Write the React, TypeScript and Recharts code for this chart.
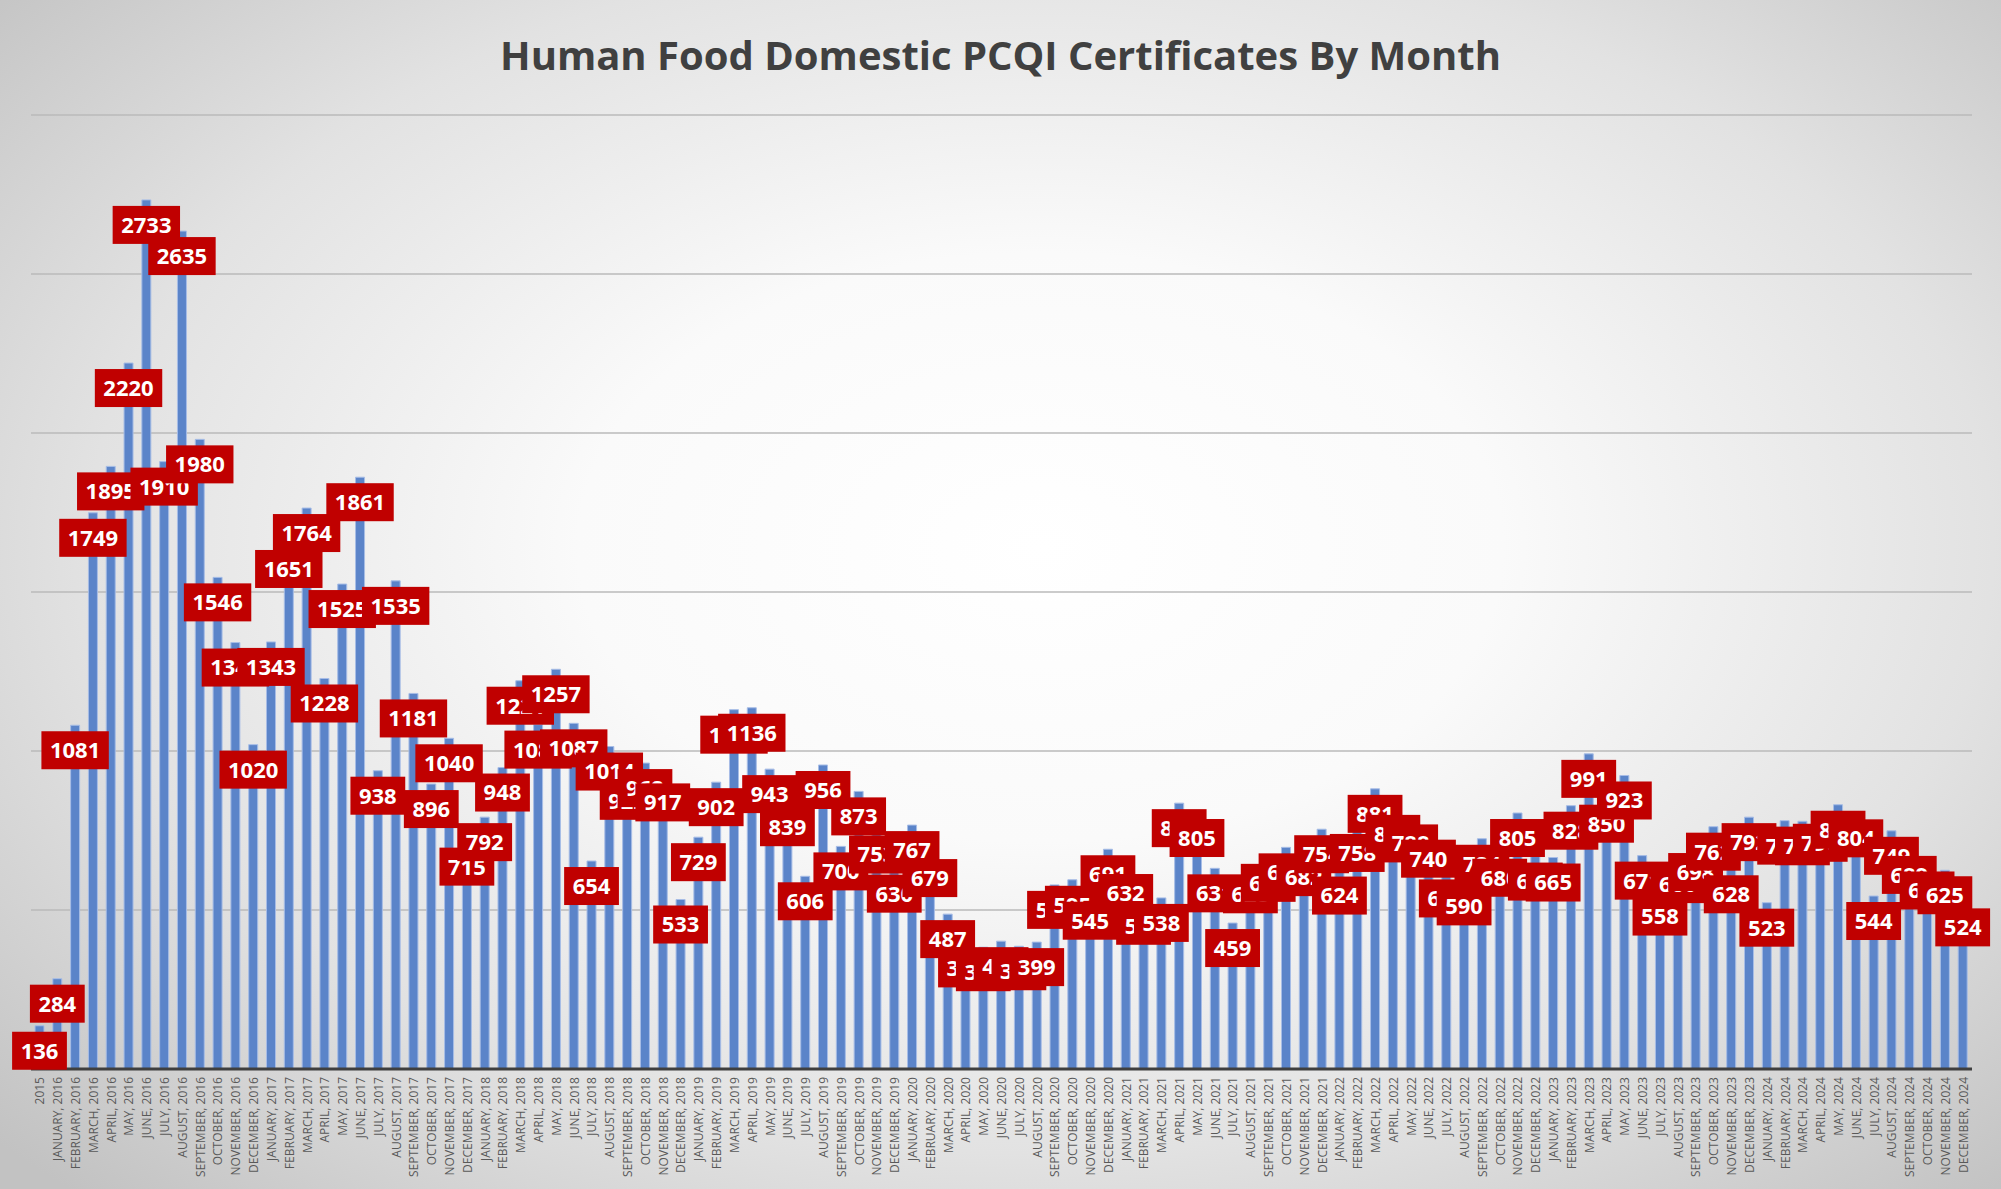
import { BarChart, Bar, XAxis, YAxis, CartesianGrid, LabelList } from 'recharts'

// certificates issued per month; first bar is the 2015 total
const MONTH_NAMES = [
  'JANUARY', 'FEBRUARY', 'MARCH', 'APRIL', 'MAY', 'JUNE',
  'JULY', 'AUGUST', 'SEPTEMBER', 'OCTOBER', 'NOVEMBER', 'DECEMBER',
]
const YEARS = [2016, 2017, 2018, 2019, 2020, 2021, 2022, 2023, 2024]

const CATEGORIES = ['2015', ...YEARS.flatMap(y => MONTH_NAMES.map(m => `${m}, ${y}`))]

const CERTIFICATES = [
  136,
  284, 1081, 1749, 1895, 2220, 2733, 1910, 2635, 1980, 1546, 1341, 1020, // 2016
  1343, 1651, 1764, 1228, 1525, 1861, 938, 1535, 1181, 896, 1040, 715,    // 2017
  792, 948, 1221, 1083, 1257, 1087, 654, 1014, 922, 962, 917, 533,         // 2018
  729, 902, 1130, 1136, 943, 839, 606, 956, 700, 873, 753, 630,            // 2019
  767, 679, 487, 395, 383, 402, 386, 399, 579, 595, 545, 691,              // 2020
  632, 529, 538, 836, 805, 631, 459, 628, 664, 697, 682, 754,              // 2021
  624, 758, 881, 818, 788, 740, 615, 590, 724, 680, 805, 668,              // 2022
  665, 828, 991, 850, 923, 671, 558, 660, 698, 762, 628, 792,              // 2023
  523, 781, 779, 790, 831, 804, 544, 749, 689, 640, 625, 524,              // 2024
]

const Y_TICKS = [0, 500, 1000, 1500, 2000, 2500, 3000]

const data = CATEGORIES.map((month, i) => ({ month, certificates: CERTIFICATES[i] }))

const FONT = '"Open Sans", "Liberation Sans", sans-serif'

// red callout sitting just inside the top of each bar
function ValueTag(props: any) {
  const { x, y, width, value } = props
  const text = String(value)
  const w = text.length * 12.6 + 17
  const h = 38
  const cx = x + width / 2
  const cy = y + 25
  return (
    <g>
      <rect x={cx - w / 2} y={cy - h / 2} width={w} height={h} fill="#c00000" />
      <text
        x={cx}
        y={cy}
        dy="0.36em"
        textAnchor="middle"
        fill="#ffffff"
        fontSize={22}
        fontWeight={700}
        fontFamily={FONT}
      >
        {text}
      </text>
    </g>
  )
}

function MonthTick({ x, y, payload }: any) {
  return (
    <text
      x={x}
      y={y}
      transform={`rotate(-90 ${x} ${y})`}
      textAnchor="end"
      dominantBaseline="central"
      fill="#595959"
      fontSize={12}
      fontFamily={FONT}
    >
      {payload.value}
    </text>
  )
}

export default function App() {
  return (
    <div
      style={{
        position: 'absolute',
        left: 0,
        top: 0,
        width: 2001,
        height: 1189,
        background: 'radial-gradient(ellipse 70% 75% at 52% 46%, #ffffff 0%, #fafafa 33%, #e2e2e2 68%, #c2c2c2 100%)',
        overflow: 'hidden',
      }}
    >
      <div
        style={{
          position: 'absolute',
          top: 27,
          left: 0,
          width: 2001,
          textAlign: 'center',
          fontFamily: FONT,
          fontWeight: 700,
          fontSize: 40,
          color: '#404040',
        }}
      >
        Human Food Domestic PCQI Certificates By Month
      </div>
      <BarChart
        width={2001}
        height={1189}
        data={data}
        margin={{ top: 115, right: 29, bottom: 0, left: 31 }}
        barSize={9}
      >
        <CartesianGrid vertical={false} stroke="#bababa" strokeWidth={1.5} />
        <YAxis hide domain={[0, 3000]} ticks={Y_TICKS} />
        <XAxis
          dataKey="month"
          interval={0}
          height={120}
          tickLine={false}
          tick={<MonthTick />}
          axisLine={{ stroke: '#3f3f3f', strokeWidth: 3 }}
        />
        <Bar
          dataKey="certificates"
          fill="#5b84c9"
          stroke="#a7bde6"
          strokeWidth={1}
          isAnimationActive={false}
        >
          <LabelList dataKey="certificates" content={<ValueTag />} />
        </Bar>
      </BarChart>
    </div>
  )
}
